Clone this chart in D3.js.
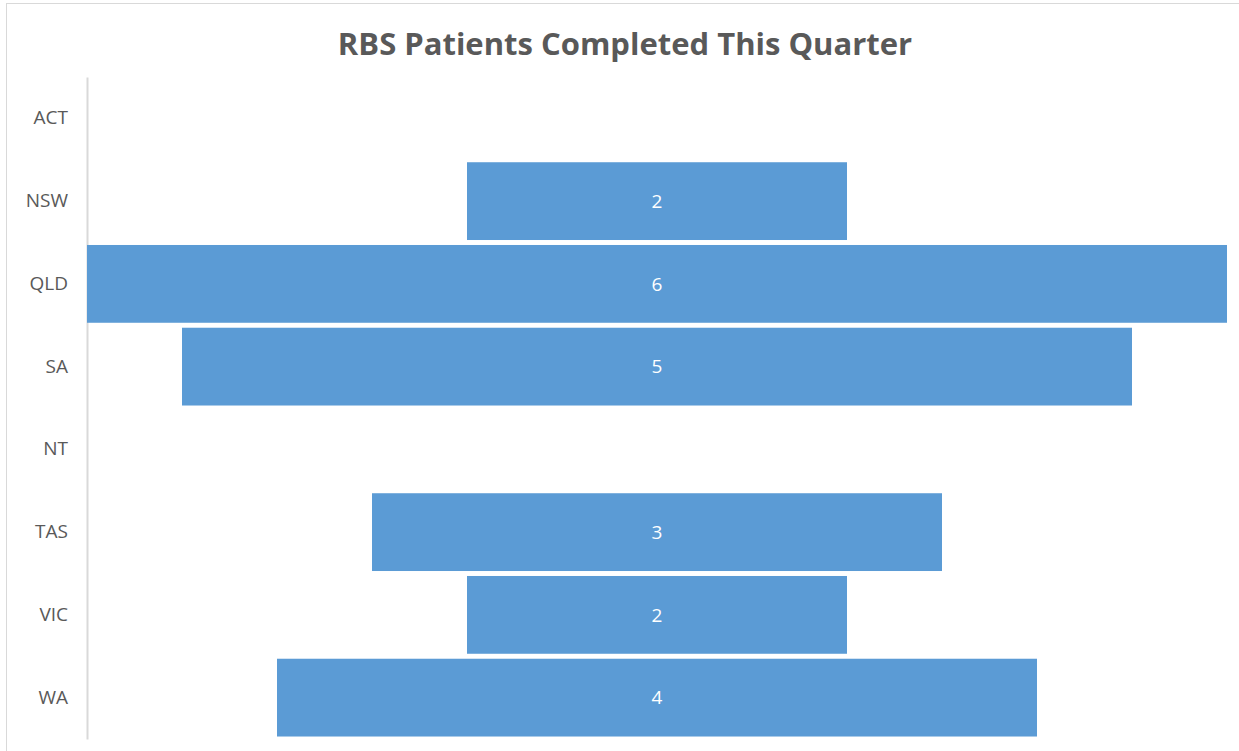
<!DOCTYPE html>
<html>
<head>
<meta charset="utf-8">
<style>
  body { margin: 0; background: #fff; }
  svg { display: block; font-family: "Open Sans", sans-serif; }
  .cat text { fill: #595959; font-size: 19px; font-family: "Open Sans", sans-serif; }
  .val { fill: #fff; font-size: 19px; }
</style>
</head>
<body>
<svg width="1239" height="751"></svg>
<script src="https://d3js.org/d3.v7.min.js"></script>
<script>
// data
var states = ["ACT", "NSW", "QLD", "SA", "NT", "TAS", "VIC", "WA"];
var completed = [0, 2, 6, 5, 0, 3, 2, 4];

var svg = d3.select("svg");

// chart frame
svg.append("rect")
    .attr("x", 6.5).attr("y", 3.5)
    .attr("width", 1260).attr("height", 800)
    .attr("fill", "none")
    .attr("stroke", "#d9d9d9");

svg.append("text")
    .attr("x", 625).attr("y", 55)
    .attr("text-anchor", "middle")
    .attr("fill", "#595959")
    .attr("font-size", 31)
    .attr("font-weight", "bold")
    .text("RBS Patients Completed This Quarter");

var max = d3.max(completed);
var x = d3.scaleLinear().domain([-max / 2, max / 2]).range([87, 1227]);
var y = d3.scaleBand().domain(states).range([77, 739]).paddingInner(0.06).paddingOuter(0.03);

var data = states.map(function(s, i) { return {state: s, value: completed[i]}; });

// category axis
var yAxis = svg.append("g")
    .attr("class", "cat")
    .attr("transform", "translate(87,0)")
    .call(d3.axisLeft(y).tickSize(0).tickPadding(19));
yAxis.select(".domain").attr("stroke", "#d9d9d9").attr("stroke-width", 2);

var bars = data.filter(function(d) { return d.value > 0; });

svg.selectAll(".bar")
    .data(bars)
    .enter().append("rect")
    .attr("class", "bar")
    .attr("x", function(d) { return x(-d.value / 2); })
    .attr("width", function(d) { return x(d.value / 2) - x(-d.value / 2); })
    .attr("y", function(d) { return y(d.state); })
    .attr("height", y.bandwidth())
    .attr("fill", "#5b9bd5");

svg.selectAll(".val")
    .data(bars)
    .enter().append("text")
    .attr("class", "val")
    .attr("x", x(0))
    .attr("y", function(d) { return y(d.state) + y.bandwidth() / 2; })
    .attr("dy", "0.35em")
    .attr("text-anchor", "middle")
    .text(function(d) { return d.value; });
</script>
</body>
</html>
